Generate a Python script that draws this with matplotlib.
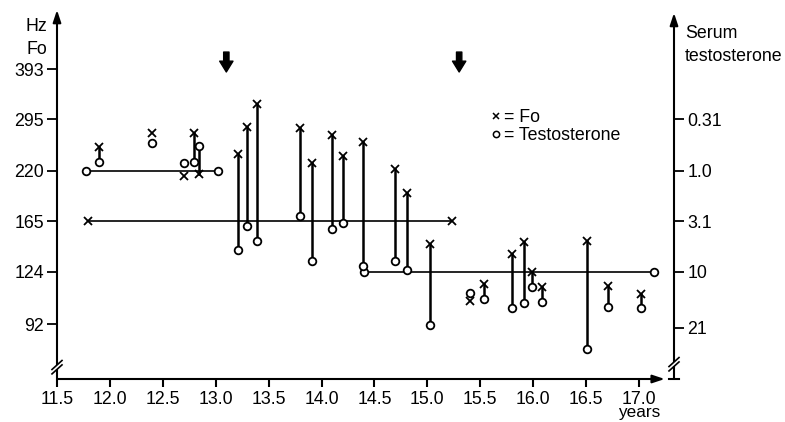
import matplotlib.pyplot as plt
from matplotlib.lines import Line2D
from matplotlib.ticker import NullLocator

plt.rcParams['font.family'] = ['Liberation Sans', 'DejaVu Sans']

# ---- data (testosterone is placed on the Fo scale, right axis labels it) ----
age = [11.90, 12.40, 12.70, 12.79, 12.84, 13.21, 13.30, 13.39, 13.80, 13.91,
       14.10, 14.20, 14.39, 14.69, 14.81, 15.02, 15.40, 15.53, 15.80, 15.91,
       15.99, 16.08, 16.51, 16.71, 17.02]
fo = [252, 273, 214, 273, 216, 242, 282, 322, 281, 230,
      270, 240, 259, 222, 194, 145, 105.2, 115.5, 137, 146.7,
      124, 113.6, 148, 114.2, 109.2]
testo = [231, 258.6, 230, 231, 253, 140, 161, 148, 170, 132,
         158, 164, 128, 132, 125.5, 91.5, 109.8, 106, 101, 103.7,
         113.6, 104.3, 80, 101.3, 100.7]
linked = [True, False, False, True, True, True, True, True, True, True,
          True, True, True, True, True, True, False, True, True, True,
          True, True, True, True, True]

# horizontal reference levels
level_start = [11.77, 11.79, 14.40]
level_end = [13.02, 15.23, 17.14]
level_val = [220, 165, 124]
level_mark = ['o', 'x', 'o']

arrow_age = [13.1, 15.3]

fo_ticks = [393, 295, 220, 165, 124, 92]
t_ticks = [295, 220, 165, 124, 90]
t_labels = ['0.31', '1.0', '3.1', '10', '21']
x_ticks = [11.5, 12.0, 12.5, 13.0, 13.5, 14.0, 14.5, 15.0, 15.5, 16.0, 16.5, 17.0]

FS = 12.8

# ---------------------------------------------------------------
fig = plt.figure(figsize=(7.85, 4.22), dpi=100)
ax = fig.add_axes([57/785, 1 - 379/422, 617/785, 369/422])
ax.set_yscale('log')
ax.set_xlim(11.5, 17.33)
ax.set_ylim(67.3, 550)

for s in ax.spines.values():
    s.set_visible(False)

ax.set_xticks(x_ticks)
ax.set_xticklabels(['%.1f' % v for v in x_ticks])
ax.set_yticks(fo_ticks)
ax.set_yticklabels([str(v) for v in fo_ticks])
ax.yaxis.set_minor_locator(NullLocator())
ax.tick_params(axis='x', direction='out', length=6, width=1.5, pad=3, labelsize=FS)
ax.tick_params(axis='y', direction='out', length=7, width=1.3, pad=2.5, labelsize=FS)

ax2 = ax.twinx()
ax2.set_yscale('log')
ax2.set_ylim(ax.get_ylim())
for s in ax2.spines.values():
    s.set_visible(False)
ax2.set_yticks(t_ticks)
ax2.set_yticklabels(t_labels)
ax2.yaxis.set_minor_locator(NullLocator())
ax2.tick_params(axis='y', direction='out', length=7, width=1.3, pad=2.5, labelsize=FS)

# axis lines with arrows
arr = dict(arrowstyle='-|>,head_length=0.6,head_width=0.2', lw=1.5, color='k',
           mutation_scale=12, shrinkA=0, shrinkB=0)
ax.annotate('', xy=(0, 1.0), xytext=(0, 0), xycoords='axes fraction', arrowprops=arr)
ax.annotate('', xy=(0.985, 0), xytext=(0, 0), xycoords='axes fraction', arrowprops=arr)
ax.annotate('', xy=(1.0, 0.992), xytext=(1.0, 0), xycoords='axes fraction', arrowprops=arr)
ax.plot([0.992, 1.008], [0, 0], color='k', lw=1.5, transform=ax.transAxes, clip_on=False)

def axis_break(xf, yf):
    dx, dy, g = 5/617, 4.5/369, 2.2/369
    ax.plot([xf, xf], [yf - g, yf + g], color='white', lw=3, solid_capstyle='butt',
            transform=ax.transAxes, clip_on=False, zorder=5)
    for off in (-g, g):
        ax.plot([xf - dx, xf + dx], [yf + off - dy, yf + off + dy], color='k', lw=1.2,
                transform=ax.transAxes, clip_on=False, zorder=6)

axis_break(0, 0.032)
axis_break(1, 0.040)

# paired vertical lines
for a, f, t, l in zip(age, fo, testo, linked):
    if l:
        ax.plot([a, a], [f, t], color='k', lw=1.8, zorder=2)

# reference levels
for s, e, v, m in zip(level_start, level_end, level_val, level_mark):
    ax.plot([s, e], [v, v], color='k', lw=1.2, zorder=2)
    ax.plot([s, e], [v, v], ls='none', marker=m, color='k', ms=5.5, mew=1.3,
            mfc='white', zorder=4)

ax.plot(age, fo, ls='none', marker='x', color='k', ms=5.8, mew=1.3, zorder=4)
ax.plot(age, testo, ls='none', marker='o', color='k', ms=5.5, mew=1.3,
        mfc='white', zorder=4)

# arrows marking events
for a in arrow_age:
    ax.annotate('', xy=(a, 0.832), xytext=(a, 0.886), xycoords=('data', 'axes fraction'),
                arrowprops=dict(arrowstyle='simple,head_length=0.65,head_width=0.8,tail_width=0.32',
                                color='k', mutation_scale=12, shrinkA=0, shrinkB=0))

# labels
ax.text(-0.016, 0.954, 'Hz', transform=ax.transAxes, ha='right', va='center', fontsize=FS)
ax.text(-0.016, 0.894, 'Fo', transform=ax.transAxes, ha='right', va='center', fontsize=FS)
ax.text(1.018, 0.935, 'Serum', transform=ax.transAxes, ha='left', va='center', fontsize=FS)
ax.text(1.018, 0.875, 'testosterone', transform=ax.transAxes, ha='left', va='center', fontsize=FS)
ax.annotate('years', xy=(17.0, -0.1027), xycoords=('data', 'axes fraction'),
            ha='center', va='baseline', fontsize=12.3)

handles = [Line2D([], [], ls='none', marker='x', color='k', ms=4.5, mew=1.1, label='= Fo'),
           Line2D([], [], ls='none', marker='o', color='k', ms=4.5, mew=1.1, mfc='white',
                  label='= Testosterone')]
ax.legend(handles=handles, loc='upper left', bbox_to_anchor=(0.705, 0.731), frameon=False,
          handlelength=0.5, handletextpad=0.2, labelspacing=0.05, borderpad=0,
          borderaxespad=0, fontsize=FS)

fig.savefig('out.png', dpi=100)
